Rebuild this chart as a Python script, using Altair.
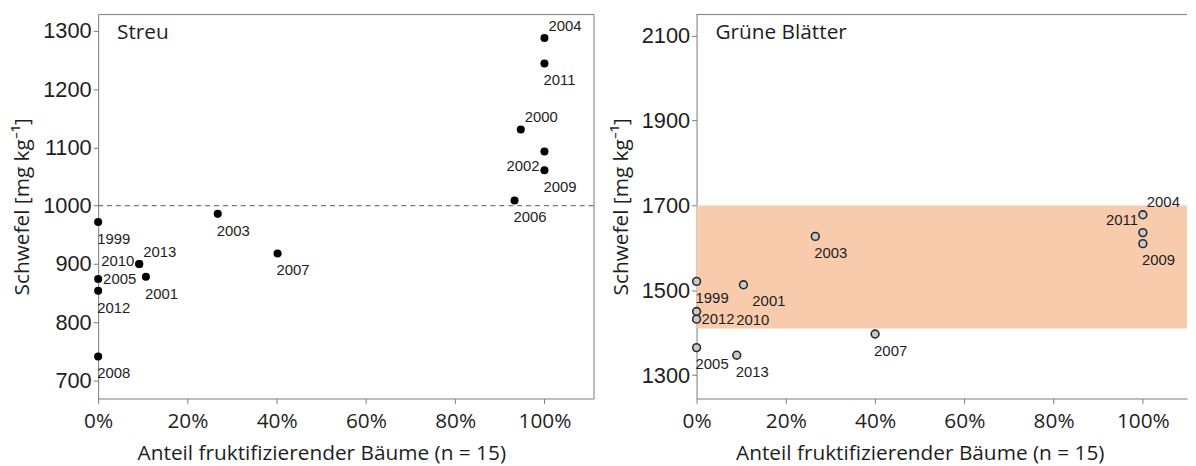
import altair as alt
import pandas as pd

# ---- data ----
streu_year = [1999, 2000, 2001, 2002, 2003, 2004, 2005, 2006, 2007, 2008, 2009, 2010, 2011, 2012, 2013]
streu_frac = [0.0, 0.947, 0.107, 1.0, 0.268, 1.0, 0.0, 0.933, 0.402, 0.0, 1.0, 0.092, 1.0, 0.0, 0.092]
streu_s = [972, 1131, 878, 1093, 986, 1288, 874, 1009, 918, 741, 1061, 900, 1244, 854, 900]
streu_pos = ["b", "ar", "b", "bl", "b", "ar", "r", "b", "b", "b", "b", "l", "b", "b", "ar"]

blatt_year = [1999, 2001, 2003, 2004, 2005, 2007, 2009, 2010, 2011, 2012, 2013]
blatt_frac = [0.0, 0.105, 0.266, 1.0, 0.0, 0.40, 1.0, 0.0, 1.0, 0.0, 0.09]
blatt_s = [1521, 1513, 1627, 1678, 1365, 1397, 1610, 1450, 1636, 1432, 1347]
blatt_pos = ["b", "br", "b", "ar", "b", "b", "b", "far", "al", "r", "b"]

streu_ref = [1000]
blatt_band_lo = [1410]
blatt_band_hi = [1700]

x_ticks = [0, 0.2, 0.4, 0.6, 0.8, 1.0]
streu_yticks = [700, 800, 900, 1000, 1100, 1200, 1300]
blatt_yticks = [1300, 1500, 1700, 1900, 2100]

X_TITLE = "Anteil fruktifizierender Bäume (n = 15)"
Y_TITLE = "Schwefel [mg kg⁻¹]"

# label placement styles: align, dx, dy
OFFSETS = {
    "ar": ("left", 4, -12.5),
    "al": ("right", -5, -12.5),
    "b": ("left", -1, 17),
    "br": ("left", 9, 16.5),
    "bl": ("right", -5, 14.5),
    "l": ("right", -5, -3),
    "r": ("left", 5, 0),
    "far": ("left", 40, 8.5),
}

H = 388
W_LEFT = 500
W_RIGHT = 495
PX_PER_UNIT = W_LEFT / 1.11
TXT = "#1e1e1e"
FRAME = "#7a7a7a"


def encs(ydomain, yticks, xmax, frame_axes):
    x = alt.X(
        "frac:Q",
        scale=alt.Scale(domain=[0, xmax], nice=False, zero=False),
        axis=alt.Axis(
            values=x_ticks, format=".0%", title=X_TITLE, grid=False,
            domain=frame_axes, domainColor=FRAME, domainWidth=1,
            tickSize=5, tickColor=FRAME, labelFont="Open Sans", labelFontSize=21,
            labelColor=TXT, labelPadding=7, titleFont="Open Sans", titleFontSize=21,
            titleFontWeight="normal", titleColor=TXT, titleX=PX_PER_UNIT / 2, titleY=56,
            titleAlign="center", titleBaseline="middle", labelFlush=False,
        ),
    )
    y = alt.Y(
        "s:Q",
        scale=alt.Scale(domain=ydomain, nice=False, zero=False),
        axis=alt.Axis(
            values=yticks, format="d", title=Y_TITLE, grid=False,
            domain=frame_axes, domainColor=FRAME, domainWidth=1, tickSize=5,
            tickColor=FRAME, labelFont="Liberation Sans", labelFontSize=22,
            labelColor=TXT, labelPadding=2, titleFont="Open Sans", titleFontSize=21,
            titleFontWeight="normal", titleColor=TXT, titleX=-76, titleY=H / 2,
            titleAngle=-90, titleAlign="center", titleBaseline="middle",
            labelFlush=False,
        ),
    )
    return x, y


def label_layers(df, x, y):
    layers = []
    for pos, (align, dx, dy) in OFFSETS.items():
        if pos not in set(df["pos"]):
            continue
        layers.append(
            alt.Chart(df)
            .transform_filter(alt.datum.pos == pos)
            .mark_text(align=align, baseline="middle", dx=dx, dy=dy,
                       font="Liberation Sans", fontSize=15, color=TXT)
            .encode(x=x, y=y, text="year:N")
        )
    return layers


def panel_title(text):
    return (
        alt.Chart(pd.DataFrame({"t": [text]}))
        .mark_text(align="left", baseline="middle", font="Open Sans", fontSize=21, color=TXT)
        .encode(x=alt.value(19), y=alt.value(19), text="t:N")
    )


# ---- left panel: Streu ----
streu_df = pd.DataFrame({"year": streu_year, "frac": streu_frac, "s": streu_s, "pos": streu_pos})
xs, ys = encs([669, 1329], streu_yticks, 1.11, False)
ref_rule = (
    alt.Chart(pd.DataFrame({"s": streu_ref}))
    .mark_rule(color="#555555", strokeDash=[5, 4], strokeWidth=1)
    .encode(y=ys)
)
streu_pts = alt.Chart(streu_df).mark_circle(size=66, color="#000000", opacity=1).encode(x=xs, y=ys)
left = alt.layer(ref_rule, streu_pts, *label_layers(streu_df, xs, ys), panel_title("Streu")).properties(
    width=W_LEFT, height=H
)

# ---- right panel: Grüne Blätter (right side cut off as in the reference) ----
blatt_df = pd.DataFrame({"year": blatt_year, "frac": blatt_frac, "s": blatt_s, "pos": blatt_pos})
xb, yb = encs([1245, 2151], blatt_yticks, W_RIGHT / PX_PER_UNIT, True)
band = (
    alt.Chart(pd.DataFrame({"s": blatt_band_lo, "s2": blatt_band_hi}))
    .mark_rect(color="#F8CBAD")
    .encode(y=yb, y2="s2:Q")
)
top_line = (
    alt.Chart(pd.DataFrame({"s": [0]}))
    .mark_rule(color=FRAME, strokeWidth=1)
    .encode(y=alt.value(0.5))
)
blatt_pts = (
    alt.Chart(blatt_df)
    .mark_point(filled=True, size=62, fill="#c9c9c9", stroke="#2a2a2a", strokeWidth=1.6, opacity=1)
    .encode(x=xb, y=yb)
)
right = alt.layer(
    band, top_line, blatt_pts, *label_layers(blatt_df, xb, yb), panel_title("Grüne Blätter")
).properties(width=W_RIGHT, height=H, view=alt.ViewBackground(stroke=None))

chart = (
    alt.hconcat(left, right, spacing=16)
    .properties(padding={"left": 3, "top": 3, "right": 0, "bottom": 0}, background="white")
    .configure_view(stroke=FRAME, strokeWidth=1)
)

chart.save("out.html", embed_options={"renderer": "svg", "actions": False})
